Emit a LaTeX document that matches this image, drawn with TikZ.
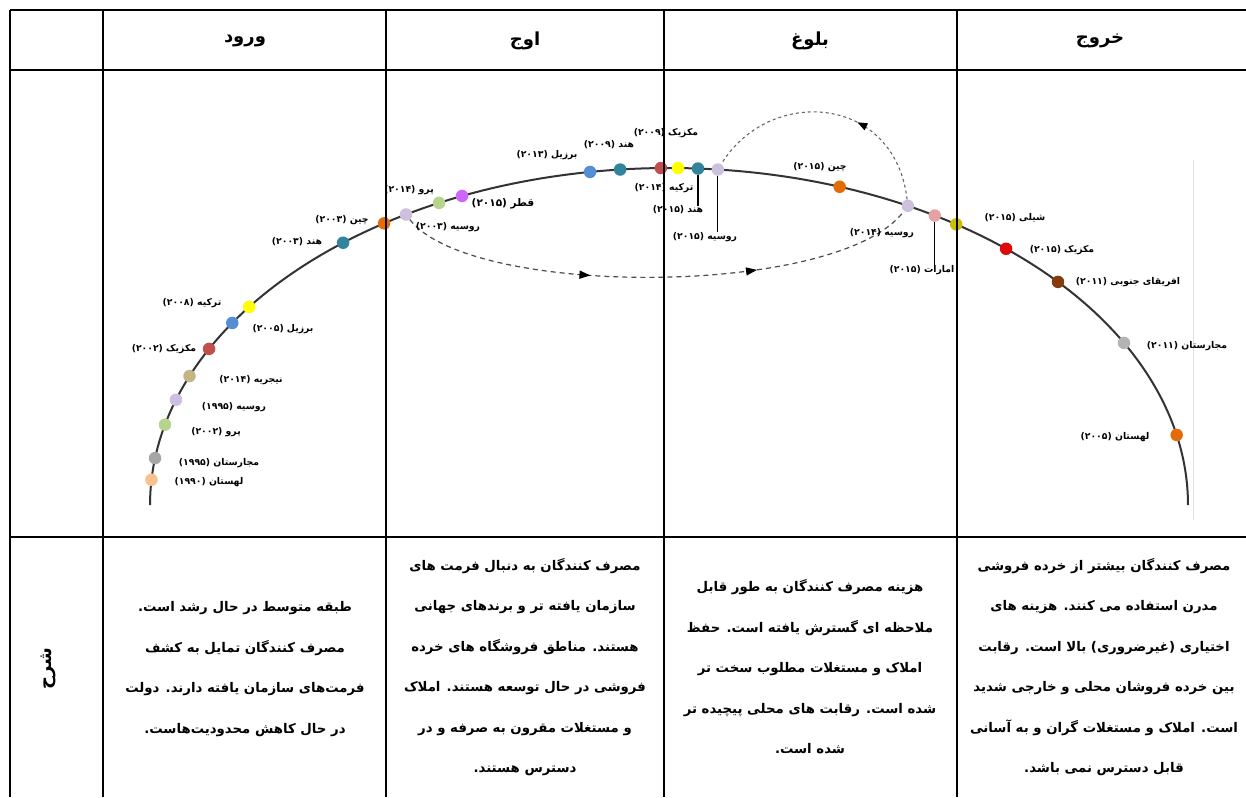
\documentclass[tikz,border=0pt]{standalone}
\usepackage{fontspec}
\usetikzlibrary{arrows.meta,decorations.markings}
\newfontfamily\fa[Script=Arabic]{DejaVu Sans}
\TeXXeTstate=1
\newcommand\rl[1]{\beginR #1\endR}
\definecolor{cPeach}{HTML}{FAC090}
\definecolor{cGray}{HTML}{A6A6A6}
\definecolor{cLGreen}{HTML}{B6D48E}
\definecolor{cLav}{HTML}{CCC0DD}
\definecolor{cKhaki}{HTML}{C4B486}
\definecolor{cRed}{HTML}{C0504D}
\definecolor{cBlue}{HTML}{558ED5}
\definecolor{cYellow}{HTML}{FFFF00}
\definecolor{cTeal}{HTML}{31849B}
\definecolor{cOrange}{HTML}{E36C09}
\definecolor{cPurple}{HTML}{CC66FF}
\definecolor{cPink}{HTML}{E4A2A2}
\definecolor{cOlive}{HTML}{C8C000}
\definecolor{cBRed}{HTML}{DD0A0A}
\definecolor{cBrown}{HTML}{843C0C}
\definecolor{cGray2}{HTML}{B4B4B4}
\begin{document}
\begin{tikzpicture}[x=1pt,y=-1pt,
  tline/.style={line width=1.3pt, black},
  hrule/.style={line width=1.8pt, black},
  curve/.style={line width=2pt, black!80},
  dot/.style={circle, inner sep=0pt, minimum size=12.5pt, draw=none},
  lbl/.style={font=\fa\bfseries\fontsize{9.3}{10}\selectfont, inner sep=0pt},
  head/.style={font=\fa\bfseries\fontsize{18}{20}\selectfont, inner sep=0pt},
  body/.style={font=\fa\bfseries\fontsize{13.3}{40.5}\selectfont, align=center, inner sep=0pt},
  leader/.style={line width=1.3pt, black},
  flowA/.style={draw=black!70, line width=1.2pt, dash pattern=on 5pt off 4pt,
    postaction={decorate}, decoration={markings,
      mark=at position 0.37 with {\arrow[black]{Triangle[length=11pt,width=8pt]}},
      mark=at position 0.69 with {\arrow[black]{Triangle[length=11pt,width=8pt]}}}},
  flowB/.style={draw=black!60, line width=1.1pt, dash pattern=on 3pt off 3pt,
    postaction={decorate}, decoration={markings,
      mark=at position 0.38 with {\arrow[black]{Triangle[length=10pt,width=7.5pt]}}}}
]
\useasboundingbox (0,0) rectangle (1246,797);
\fill[white] (0,0) rectangle (1246,797);

% faint frame line of the inserted chart
\draw[black!12, line width=0.8pt] (1193,160) -- (1193,520);

% life-cycle curve
\draw[curve] plot[domain=180:0, samples=150, smooth] ({669+519*cos(\x)},{505-337*sin(\x)});

% dots: entry
\node[dot, fill=cPeach]  (dPol90) at ({669+519*cos(175.7)},{505-337*sin(175.7)}) {};
\node[dot, fill=cGray]   (dHun95) at ({669+519*cos(172.0)},{505-337*sin(172.0)}) {};
\node[dot, fill=cLGreen] (dPer02) at ({669+519*cos(166.2)},{505-337*sin(166.2)}) {};
\node[dot, fill=cLav]    (dRus95) at ({669+519*cos(161.8)},{505-337*sin(161.8)}) {};
\node[dot, fill=cKhaki]  (dNig14) at ({669+519*cos(157.5)},{505-337*sin(157.5)}) {};
\node[dot, fill=cRed]    (dMex02) at ({669+519*cos(152.4)},{505-337*sin(152.4)}) {};
\node[dot, fill=cBlue]   (dBra05) at ({669+519*cos(147.3)},{505-337*sin(147.3)}) {};
\node[dot, fill=cYellow] (dTur08) at ({669+519*cos(144.0)},{505-337*sin(144.0)}) {};
\node[dot, fill=cTeal]   (dInd03) at ({669+519*cos(128.9)},{505-337*sin(128.9)}) {};
\node[dot, fill=cOrange] (dChn03) at ({669+519*cos(123.3)},{505-337*sin(123.3)}) {};
% peak
\node[dot, fill=cLav]    (dRus03) at ({669+519*cos(120.45)},{505-337*sin(120.45)}) {};
\node[dot, fill=cLGreen] (dPer14) at ({669+519*cos(116.3)},{505-337*sin(116.3)}) {};
\node[dot, fill=cPurple] (dQat15) at ({669+519*cos(113.5)},{505-337*sin(113.5)}) {};
\node[dot, fill=cBlue]   (dBra13) at ({669+519*cos(98.75)},{505-337*sin(98.75)}) {};
\node[dot, fill=cTeal]   (dInd09) at ({669+519*cos(95.4)},{505-337*sin(95.4)}) {};
\node[dot, fill=cRed]    (dMex09) at ({669+519*cos(90.9)},{505-337*sin(90.9)}) {};
% maturity
\node[dot, fill=cYellow] (dTur14) at ({669+519*cos(89.0)},{505-337*sin(89.0)}) {};
\node[dot, fill=cTeal]   (dInd15) at ({669+519*cos(86.8)},{505-337*sin(86.8)}) {};
\node[dot, fill=cLav]    (dRus15) at ({669+519*cos(84.6)},{505-337*sin(84.6)}) {};
\node[dot, fill=cOrange] (dChn15) at ({669+519*cos(70.8)},{505-337*sin(70.8)}) {};
\node[dot, fill=cLav]    (dRus14) at ({669+519*cos(62.6)},{505-337*sin(62.6)}) {};
\node[dot, fill=cPink]   (dUae15) at ({669+519*cos(59.2)},{505-337*sin(59.2)}) {};
% exit
\node[dot, fill=cOlive]  (dChl15) at ({669+519*cos(56.4)},{505-337*sin(56.4)}) {};
\node[dot, fill=cBRed]   (dMex15) at ({669+519*cos(49.5)},{505-337*sin(49.5)}) {};
\node[dot, fill=cBrown]  (dSaf11) at ({669+519*cos(41.45)},{505-337*sin(41.45)}) {};
\node[dot, fill=cGray2]  (dHun11) at ({669+519*cos(28.75)},{505-337*sin(28.75)}) {};
\node[dot, fill=cOrange] (dPol05) at ({669+519*cos(12)},{505-337*sin(12)}) {};

% dashed arrows
\draw[flowA] (dRus03) .. controls (470,298) and (840,298) .. (dRus14);
\draw[flowB] (dRus14) .. controls (895,95) and (770,85) .. (dRus15);

% labels: entry
\node[lbl] (lPol90) at (209,482) {\rl{لهستان (۱۹۹۰)}};
\node[lbl] (lHun95) at (219,463) {\rl{مجارستان (۱۹۹۵)}};
\node[lbl] (lPer02) at (216,432) {\rl{پرو (۲۰۰۲)}};
\node[lbl] (lRus95) at (234,407) {\rl{روسیه (۱۹۹۵)}};
\node[lbl] (lNig14) at (251,380) {\rl{نیجریه (۲۰۱۴)}};
\node[lbl] (lMex02) at (164,349) {\rl{مکزیک (۲۰۰۲)}};
\node[lbl] (lBra05) at (283,329) {\rl{برزیل (۲۰۰۵)}};
\node[lbl] (lTur08) at (192,303) {\rl{ترکیه (۲۰۰۸)}};
\node[lbl] (lInd03) at (297,242) {\rl{هند (۲۰۰۳)}};
\node[lbl] (lChn03) at (342,220) {\rl{چین (۲۰۰۳)}};
% labels: peak
\node[lbl] (lPer14) at (409,190) {\rl{پرو (۲۰۱۴)}};
\node[lbl] (lRus03) at (448,227) {\rl{روسیه (۲۰۰۳)}};
\node[lbl, font=\fa\bfseries\fontsize{10.5}{11}\selectfont] (lQat15) at (503,204) {\rl{قطر (۲۰۱۵)}};
\node[lbl] (lBra13) at (547,155) {\rl{برزیل (۲۰۱۳)}};
\node[lbl] (lInd09) at (609,145) {\rl{هند (۲۰۰۹)}};
\node[lbl] (lMex09) at (666,133) {\rl{مکزیک (۲۰۰۹)}};
% labels: maturity
\node[lbl] (lTur14) at (664,188) {\rl{ترکیه (۲۰۱۴)}};
\node[lbl] (lInd15) at (678,210) {\rl{هند (۲۰۱۵)}};
\node[lbl] (lRus15) at (705,237) {\rl{روسیه (۲۰۱۵)}};
\node[lbl] (lChn15) at (820,167) {\rl{چین (۲۰۱۵)}};
\node[lbl] (lRus14) at (882,233) {\rl{روسیه (۲۰۱۴)}};
\node[lbl] (lUae15) at (922,270) {\rl{امارات (۲۰۱۵)}};
% labels: exit
\node[lbl] (lChl15) at (1015,218) {\rl{شیلی (۲۰۱۵)}};
\node[lbl] (lMex15) at (1062,250) {\rl{مکزیک (۲۰۱۵)}};
\node[lbl] (lSaf11) at (1128,282) {\rl{افریقای جنوبی (۲۰۱۱)}};
\node[lbl] (lHun11) at (1187,346) {\rl{مجارستان (۲۰۱۱)}};
\node[lbl] (lPol05) at (1115,437) {\rl{لهستان (۲۰۰۵)}};

% leader lines
\draw[leader] (dInd15.south) -- (dInd15.south |- lInd15.north);
\draw[leader] (dRus15.south) -- (dRus15.south |- lRus15.north);
\draw[leader] (dUae15.south) -- (dUae15.south |- lUae15.north);

% headers
\node[head] (hEnt) at (245,41) {\rl{ورود}};
\node[head] (hPeak) at (525,41) {\rl{اوج}};
\node[head] (hMat) at (810,41) {\rl{بلوغ}};
\node[head] (hExit) at (1100,41) {\rl{خروج}};

% row title
\node[font=\fa\bfseries\fontsize{18}{20}\selectfont, rotate=90, inner sep=0pt] (rowT) at (48,669) {\rl{شرح}};

% descriptions
\node[body] (tEnt) at (245,669) {\rl{طبقه متوسط در حال رشد است.}\\\rl{مصرف کنندگان تمایل به کشف}\\\rl{فرمت‌های سازمان یافته دارند. دولت}\\\rl{در حال کاهش محدودیت‌هاست.}};
\node[body] (tPeak) at (525,667) {\rl{مصرف کنندگان به دنبال فرمت های}\\\rl{سازمان یافته تر و برندهای جهانی}\\\rl{هستند. مناطق فروشگاه های خرده}\\\rl{فروشی در حال توسعه هستند. املاک}\\\rl{و مستغلات مقرون به صرفه و در}\\\rl{دسترس هستند.}};
\node[body] (tMat) at (810,667) {\rl{هزینه مصرف کنندگان به طور قابل}\\\rl{ملاحظه ای گسترش یافته است. حفظ}\\\rl{املاک و مستغلات مطلوب سخت تر}\\\rl{شده است. رقابت های محلی پیچیده تر}\\\rl{شده است.}};
\node[body] (tExit) at (1104,667) {\rl{مصرف کنندگان بیشتر از خرده فروشی}\\\rl{مدرن استفاده می کنند. هزینه های}\\\rl{اختیاری (غیرضروری) بالا است. رقابت}\\\rl{بین خرده فروشان محلی و خارجی شدید}\\\rl{است. املاک و مستغلات گران و به آسانی}\\\rl{قابل دسترس نمی باشد.}};

% table rules (on top, as in the reference)
\draw[hrule] (10,10) -- (1246,10);
\draw[hrule] (10,70) -- (1246,70);
\draw[hrule] (10,537) -- (1246,537);
\foreach \cx in {10,103,386,664,957} {\draw[tline] (\cx,10) -- (\cx,797);}
\end{tikzpicture}
\end{document}
